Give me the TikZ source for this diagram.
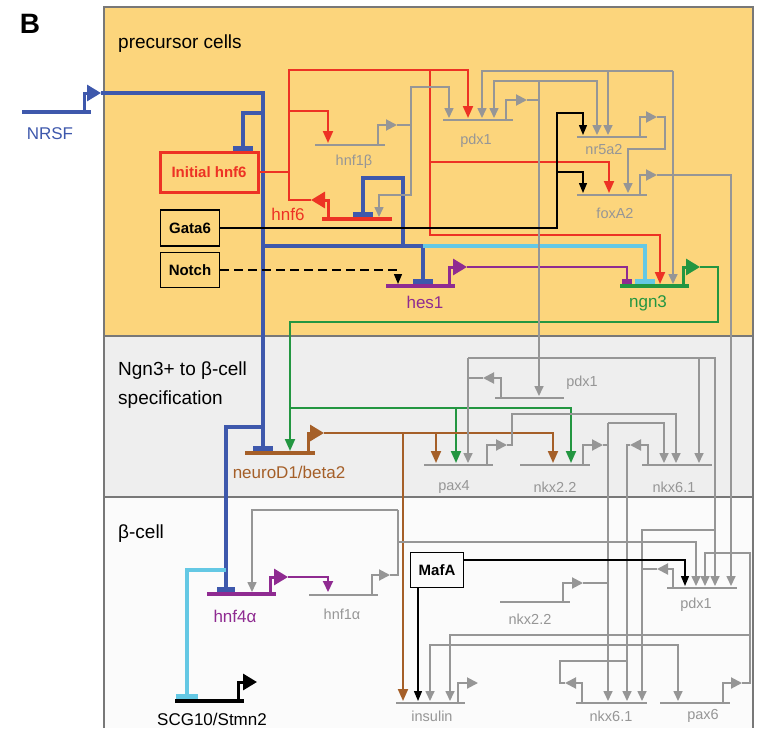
\documentclass[tikz,border=0pt]{standalone}
\usepackage{fontspec}
\setmainfont{Liberation Sans}
\usetikzlibrary{arrows.meta}
\definecolor{precol}{RGB}{252,213,124}
\definecolor{ngncol}{RGB}{238,238,238}
\definecolor{betacol}{RGB}{251,251,251}
\definecolor{framecol}{RGB}{120,120,120}
\definecolor{nrsfblue}{RGB}{62,88,172}
\definecolor{hnfred}{RGB}{237,50,36}
\definecolor{genegray}{RGB}{150,150,150}
\definecolor{hespurple}{RGB}{143,43,145}
\definecolor{ngngreen}{RGB}{35,150,65}
\definecolor{inhcyan}{RGB}{100,200,228}
\definecolor{ndbrown}{RGB}{165,95,40}
% repression bar: colour, x, y of gene line, half width
\newcommand{\inhbar}[4]{\fill[#1] ({#2-#4},{#3-5}) rectangle ({#2+#4},{#3});}

\begin{document}
\begin{tikzpicture}[x=1pt,y=-1pt,every node/.style={inner sep=0pt},
  ptitle/.style={font=\fontsize{19}{23}\selectfont},
  glab/.style={text=genegray,font=\fontsize{14.5}{17}\selectfont},
  clab/.style={font=\fontsize{17}{20}\selectfont},
  inbox/.style={draw,line width=1.3pt,font=\bfseries\fontsize{15}{18}\selectfont,minimum width=59pt,minimum height=36pt},
  gbar/.style={draw=genegray,line width=2.8pt},
  cbar/.style={line width=4.5pt},
  gwire/.style={draw=genegray,line width=1.6pt},
  gin/.style={gwire,-{Triangle[length=10pt,width=9pt]}},
  gprom/.style={draw=genegray,line width=2pt,-{Triangle[length=11pt,width=11pt]}},
  cprom/.style={line width=3pt,-{Triangle[length=14pt,width=16pt]}},
  bwire/.style={draw=nrsfblue,line width=4.5pt},
  cwire/.style={draw=inhcyan,line width=4.5pt},
  rin/.style={draw=hnfred,line width=2pt,-{Triangle[length=12pt,width=10pt]}},
  kin/.style={draw=black,line width=1.3pt,-{Triangle[length=10pt,width=8pt]}},
  pin/.style={draw=hespurple,line width=2pt,-{Triangle[length=11pt,width=10pt]}},
  gnin/.style={draw=ngngreen,line width=2pt,-{Triangle[length=12pt,width=10pt]}},
  bnin/.style={draw=ndbrown,line width=2pt,-{Triangle[length=12pt,width=10pt]}}]
\useasboundingbox (0,0) rectangle (757,728);
% panels
\fill[precol] (104,7) rectangle (753,336);
\fill[ngncol] (104,336) rectangle (753,497);
\fill[betacol] (104,497) rectangle (753,728);
\draw[framecol,line width=1.4pt] (104,728) -- (104,7) -- (753,7) -- (753,728);
\draw[framecol,line width=1.4pt] (104,336) -- (753,336) (104,497) -- (753,497);
\node[font=\bfseries\fontsize{28}{30}\selectfont] (panelB) at (30,24) {B};
\node[ptitle,anchor=base west] (precT) at (118,48) {precursor cells};
\node[ptitle,anchor=base west] (specT) at (118,375) {Ngn3+ to β-cell};
\node[ptitle,anchor=base west] (specT2) at (118,404) {specification};
\node[ptitle,anchor=base west] (betaT) at (118,538) {β-cell};

% input boxes
\node[inbox,draw=hnfred,line width=3pt,text=hnfred,minimum width=98pt,minimum height=40pt] (IH) at (209,172) {Initial hnf6};
\node[inbox] (Gata6) at (190,228) {Gata6};
\node[inbox,minimum height=35pt] (Notch) at (190,270) {Notch};
\node[inbox,minimum width=53pt,minimum height=35pt] (MafA) at (437,570) {MafA};

% gray genes
\foreach \xa/\xb/\yy in {315/385/145,443/513/120,577/647/137,577/647/195,495/564/398,424/493/465,520/590/465,642/712/465,309/378/595,500/570/602,667/737/588,396/465/703,576/647/703,660/730/703}
  \draw[gbar] (\xa,\yy) -- (\xb,\yy);
\foreach \xa/\yy/\xb/\yt in {378/145/397/125,506/120/527/100,640/137/657/117,640/195/657/175,487/465/507/445,583/465/603/445,372/595/390/575,563/602/583/583,458/703/478/683,723/703/742/683,501/398/483/378,648/465/630/445,673/588/657/569,582/703/565/683}
  \draw[gprom] (\xa,\yy) |- (\xb,\yt);
\foreach \nm/\xx/\yy/\lab in {hnfOneB/354/162/{hnf1β},pdxA/476/141/pdx1,nrA/604/150/nr5a2,foxA/615/213/foxA2,pdxB/582/383/pdx1,paxB/454/487/pax4,nkxTB/555/487/{nkx2.2},nkxSB/674/487/{nkx6.1},hnfOneA/342/614/{hnf1α},nkxTC/530/619/{nkx2.2},pdxC/696/605/pdx1,insC/432/716/insulin,nkxSC/611/716/{nkx6.1},paxC/703/716/pax6}
  \node[glab] (\nm) at (\xx,\yy) {\lab};

% coloured genes
\draw[cbar,nrsfblue] (22,112) -- (91,112);
\draw[cbar,hnfred] (322,219) -- (392,219);
\draw[cbar,hespurple] (386,286) -- (455,286);
\draw[cbar,ngngreen] (620,286) -- (689,286);
\draw[cbar,ndbrown] (245,453) -- (315,453);
\draw[cbar,hespurple] (207,594) -- (276,594);
\draw[cbar,black] (175,701) -- (244,701);
\draw[cprom,nrsfblue] (84,112) |- (101,93);
\draw[cprom,hnfred] (328,219) |- (311,200);
\draw[cprom,hespurple] (449,286) |- (467,267);
\draw[cprom,ngngreen] (683,286) |- (700,267);
\draw[cprom,ndbrown] (308,453) |- (324,433);
\draw[cprom,hespurple] (270,594) |- (288,577);
\draw[cprom,black] (238,701) |- (257,682);
\node[clab,text=nrsfblue] (NRSF) at (50,134) {NRSF};
\node[clab,text=hnfred] (hnfSix) at (288,214) {hnf6};
\node[clab,text=hespurple] (hesOne) at (425,302) {hes1};
\node[clab,text=ngngreen] (ngnThree) at (648,303) {ngn3};
\node[clab,text=ndbrown] (neuroD) at (289,472) {neuroD1/beta2};
\node[clab,text=hespurple] (hnfFourA) at (235,616) {hnf4α};
\node[clab] (scg) at (212,719) {SCG10/Stmn2};

% NRSF repression
\draw[bwire] (101,93) -| (263,446);
\draw[bwire] (263,113) -| (243,147);
\draw[bwire] (263,246) -| (423,280);
\draw[bwire] (363,213) |- (403,178) -- (403,246);
\draw[bwire] (263,427) -| (226,588);
\draw[cwire] (423,246) -| (645,280);
\draw[cwire] (226,570) -| (187,696);
\inhbar{nrsfblue}{243}{151}{10}
\inhbar{nrsfblue}{363}{217}{10}
\inhbar{nrsfblue}{423}{284}{10}
\inhbar{nrsfblue}{263}{451}{10}
\inhbar{nrsfblue}{226}{592}{9}
\inhbar{inhcyan}{645}{284}{10}
\inhbar{inhcyan}{187}{699}{11}

% hnf6
\draw[draw=hnfred,line width=2pt] (IH.east) -- (289,172);
\draw[rin] (311,200) -| (289,70) -| (468,118);
\draw[rin] (289,111) -| (328,143);
\draw[rin] (430,70) -- (430,235) -| (660,284);
\draw[rin] (430,162) -| (609,193);

% hes1, hnf4a
\draw[draw=hespurple,line width=2pt] (467,267) -| (627,280);
\inhbar{hespurple}{627}{284}{5}
\draw[pin] (288,577) -| (328,592);

% ngn3
\draw[gnin] (700,267) -| (718,322) -| (290,451);
\draw[gnin] (290,408) -| (571,463);
\draw[gnin] (456,408) -- (456,463);

% neuroD1
\draw[bnin] (324,433) -| (553,463);
\draw[bnin] (436,433) -- (436,463);
\draw[bnin] (403,433) -- (403,701);

% gray network
\draw[gwire] (397,125) -- (411,125);
\draw[gin] (411,125) |- (379,195) -- (379,217);
\draw[gin] (411,125) |- (449,87) -- (449,118);
\draw[gwire] (527,100) -- (539,100);
\draw[gin] (539,81) -- (539,396);
\draw[gin] (539,81) -| (494,118);
\draw[gin] (539,81) -| (597,135);
\draw[gin] (673,71) -| (482,118);
\draw[gin] (608,71) -- (608,135);
\draw[gin] (673,71) -- (673,284);
\draw[gin] (657,117) -| (665,149) -| (628,193);
\draw[gin] (657,175) -| (731,586);
\draw[gwire] (483,378) -- (468,378);
\draw[gin] (468,358) -- (468,463);
\draw[gin] (468,358) -| (715,586);
\draw[gin] (699,358) -- (699,463);
\draw[gin] (507,445) -| (512,414) -| (676,463);
\draw[gwire] (603,445) -- (608,445);
\draw[gin] (608,423) -| (664,463);
\draw[gin] (608,423) -- (608,701);
\draw[gin] (630,445) -| (627,701);
\draw[gwire] (390,575) -| (398,510);
\draw[gin] (398,510) -| (252,592);
\draw[gin] (398,542) -| (696,586);
\draw[gwire] (657,569) -| (642,530) -- (715,530);
\draw[gin] (642,569) -- (642,701);
\draw[gin] (642,645) -| (430,701);
\draw[gin] (642,645) -| (678,701);
\draw[gin] (742,683) -| (750,553) -| (705,586);
\draw[gin] (750,635) -| (450,701);
\draw[gwire] (583,583) -- (608,583);
\draw[gwire] (565,683) -| (560,661) -- (627,661);

% black inputs
\draw[kin] (Gata6.east) -| (557,113) -| (583,135);
\draw[kin] (557,172) -| (583,193);
\draw[kin,dash pattern=on 9pt off 5pt] (Notch.east) -| (398,284);
\draw[kin] ([yshift=10pt]MafA.east) -| (685,586);
\draw[kin] ([xshift=-19pt]MafA.south) -- (418,701);
\end{tikzpicture}
\end{document}
